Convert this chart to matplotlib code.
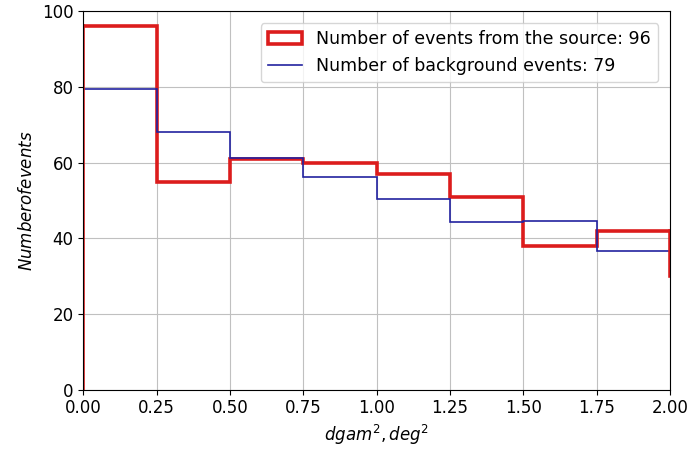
import numpy as np
import matplotlib.pyplot as plt
from matplotlib.patches import Patch

# bins in dgam^2 (deg^2)
bordas = [0.0, 0.25, 0.5, 0.75, 1.0, 1.25, 1.5, 1.75, 2.0]

# contagens
fonte = [96, 55, 61, 60, 57, 51, 38, 42]
fundo = [79.5, 68.2, 61.3, 56.2, 50.5, 44.2, 44.7, 36.7]
fim_fonte = 30  # a borda direita vermelha para em ~30

cor_fonte = '#dc1c1c'
cor_fundo = '#2222a0'

plt.rcParams['font.size'] = 12

fig, ax = plt.subplots(figsize=(6.93, 4.53), dpi=100)

ax.stairs(fonte, bordas, color=cor_fonte, lw=2.6, baseline=None)
# bordas verticais do histograma vermelho
ax.plot([bordas[0], bordas[0]], [0, fonte[0]], color=cor_fonte, lw=2.6)
ax.plot([bordas[-1], bordas[-1]], [fonte[-1], fim_fonte], color=cor_fonte, lw=2.6)
ax.stairs(fundo, bordas, color=cor_fundo, lw=1.2, baseline=None)

ax.set_xlim(0, 2.0)
ax.set_ylim(0, 100)
ax.set_xticks(np.arange(0, 2.01, 0.25))
ax.set_yticks(range(0, 101, 20))
ax.grid(True, color='#c0c0c0')
ax.set_axisbelow(True)

ax.set_xlabel(r'$dgam^2, deg^2$')
ax.set_ylabel(r'$Number of events$')

handles = [Patch(facecolor='none', edgecolor=cor_fonte, lw=2.6),
           plt.Line2D([], [], color=cor_fundo, lw=1.2)]
labels = ['Number of events from the source: 96',
          'Number of background events: 79']
ax.legend(handles, labels, loc='upper right', fontsize=12.5,
          borderaxespad=0.7)

fig.subplots_adjust(left=0.12, right=0.967, top=0.975, bottom=0.14)
fig.savefig('out.png', dpi=100)
